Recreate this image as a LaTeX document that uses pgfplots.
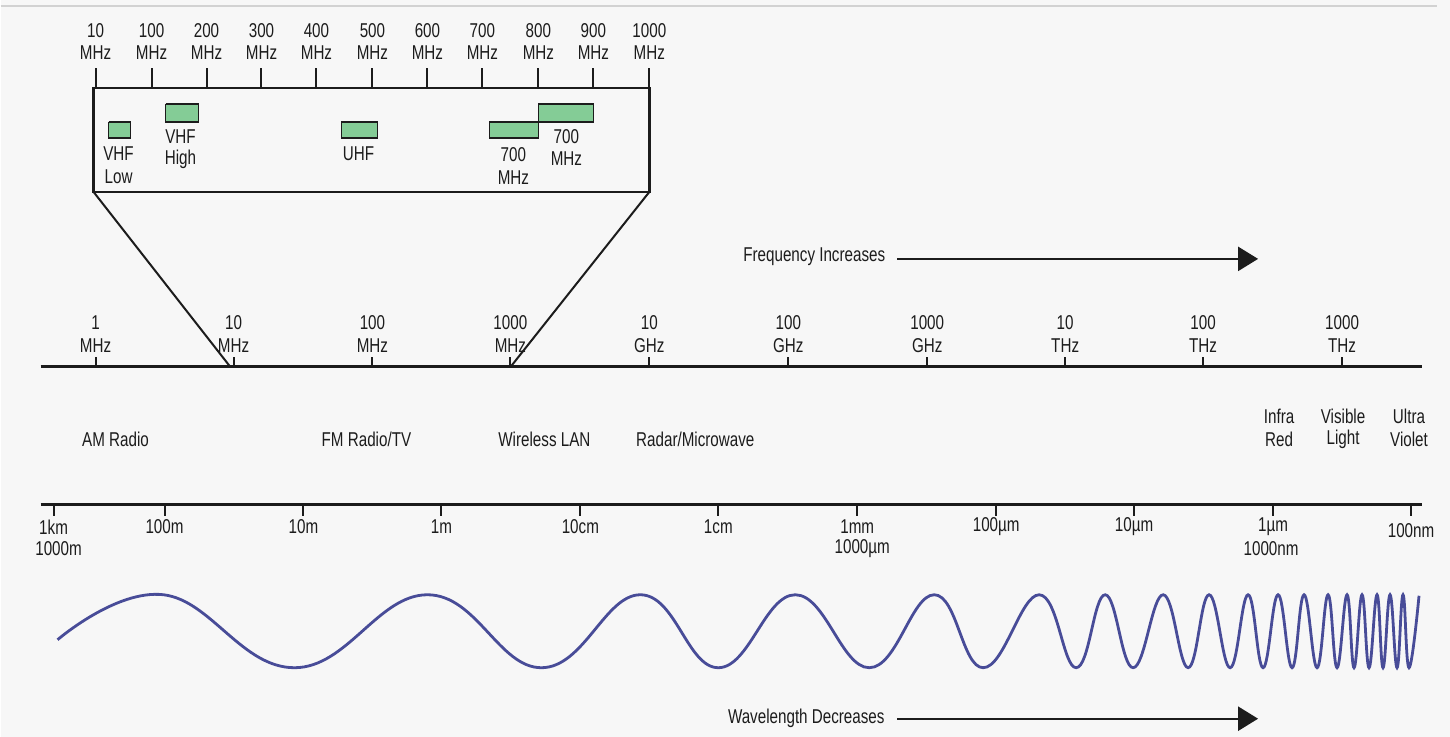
\documentclass[border=0pt]{standalone}
\usepackage{pgfplots}
\pgfplotsset{compat=1.18}
\usetikzlibrary{arrows.meta}
\usepackage{fontspec}
\setmainfont{Liberation Sans}[FakeStretch=0.76]
\definecolor{bg}{RGB}{247,247,247}
\definecolor{band}{RGB}{132,204,150}
\definecolor{wave}{RGB}{72,76,152}
\definecolor{ink}{RGB}{28,28,28}

\begin{document}
\begin{tikzpicture}
\begin{axis}[
    width=725pt, height=368.5pt, scale only axis,
    xmin=0, xmax=1450, ymin=0, ymax=737, y dir=reverse,
    hide axis, clip=false,
    every node near coord/.style={anchor=center, inner sep=0pt, text=ink},
    lbl/.style={draw=none, mark=none, nodes near coords, point meta=explicit symbolic},
    tk/.style={ink, line width=1pt, quiver={u=0, v=#1}, -},
]

% background
\addplot[fill=bg, draw=none] coordinates {(0,0) (1450,0) (1450,737) (0,737)};
\addplot[gray!35, line width=0.6pt] coordinates {(0,6) (1437,6)};

% ---- inset: 10 - 1000 MHz ----
\addplot[ink, line width=1.2pt, line cap=rect] coordinates {(93,88) (649,88) (649,192) (93,192) (93,88)};
\addplot[tk=-20] coordinates {(95,88) (151,88) (206,88) (261,88) (316,88) (372,88) (427,88) (482,88) (538,88) (593,88) (649,88)};
\addplot[lbl] coordinates {(95,31)[10] (151,31)[100] (206,31)[200] (261,31)[300] (316,31)[400] (372,31)[500]
    (427,31)[600] (482,31)[700] (538,31)[800] (593,31)[900] (649,31)[1000]};
\addplot[lbl] coordinates {(95,53)[MHz] (151,53)[MHz] (206,53)[MHz] (261,53)[MHz] (316,53)[MHz] (372,53)[MHz]
    (427,53)[MHz] (482,53)[MHz] (538,53)[MHz] (593,53)[MHz] (649,53)[MHz]};

% bands
\addplot[fill=band, draw=ink, line width=0.6pt] coordinates {(108,122) (130,122) (130,138) (108,138) (108,122)};
\addplot[fill=band, draw=ink, line width=0.6pt] coordinates {(165,104) (198,104) (198,122) (165,122) (165,104)};
\addplot[fill=band, draw=ink, line width=0.6pt] coordinates {(341,122) (377,122) (377,138) (341,138) (341,122)};
\addplot[fill=band, draw=ink, line width=0.6pt] coordinates {(489,122) (538,122) (538,138) (489,138) (489,122)};
\addplot[fill=band, draw=ink, line width=0.6pt] coordinates {(538,104) (593,104) (593,122) (538,122) (538,104)};
\addplot[lbl] coordinates {(118,154)[VHF] (118,177)[Low] (180,137)[VHF] (180,159)[High] (358,154)[UHF]
    (513,155)[700] (513,178)[MHz] (566,137)[700] (566,159)[MHz]};

% zoom lines
\addplot[ink, line width=1pt] coordinates {(93,192) (229,366)};
\addplot[ink, line width=1pt] coordinates {(649,192) (511,366)};

% ---- frequency axis ----
\addplot[ink, line width=1.5pt] coordinates {(40,367) (1422,367)};
\addplot[tk=-10] coordinates {(95,367) (233,367) (372,367) (510,367) (649,367) (788,367) (927,367) (1065,367) (1203,367) (1342,367)};
\addplot[lbl] coordinates {(95,323)[1] (233,323)[10] (372,323)[100] (510,323)[1000] (649,323)[10]
    (788,323)[100] (927,323)[1000] (1065,323)[10] (1203,323)[100] (1342,323)[1000]};
\addplot[lbl] coordinates {(95,346)[MHz] (233,346)[MHz] (372,346)[MHz] (510,346)[MHz] (649,346)[GHz]
    (788,346)[GHz] (927,346)[GHz] (1065,346)[THz] (1203,346)[THz] (1342,346)[THz]};

% regions
\addplot[lbl] coordinates {(115,440)[AM Radio] (366,440)[FM Radio/TV] (544,440)[Wireless LAN] (695,440)[Radar/Microwave]
    (1279,417)[Infra] (1279,440)[Red] (1343,417)[Visible] (1343,440)[Light] (1409,417)[Ultra] (1409,440)[Violet]};

% ---- wavelength axis ----
\addplot[ink, line width=1.5pt] coordinates {(40,505) (1422,505)};
\addplot[tk=11] coordinates {(53,505) (164,505) (303,505) (441,505) (580,505) (718,505) (857,505) (996,505) (1134,505) (1273,505) (1411,505)};
\addplot[lbl] coordinates {(53,527)[1km] (164,527)[100m] (303,527)[10m] (441,527)[1m] (580,527)[10cm] (718,527)[1cm]
    (857,527)[1mm] (996,527)[100µm] (1134,527)[10µm] (1273,527)[1µm] (1411,531)[100nm]
    (58,549)[1000m] (862,549)[1000µm] (1271,549)[1000nm]};

% ---- wave ----
\addplot[wave, line width=1.4pt, smooth, tension=0.72] coordinates {
    (57,640) (163,595) (294,668) (427,595) (541,668) (640,595) (718,668) (795,595) (869,668)
    (934,595) (983,668) (1039,595) (1076,668) (1105,595) (1133,668) (1163,595) (1188,668)
    (1209,595) (1230,668) (1248,595) (1263,668) (1278,595) (1292,668) (1304,595) (1317,668)
    (1328,595) (1337,668) (1347,595) (1354,668) (1362,595) (1369,668) (1377,595) (1383,668)
    (1390,595) (1397,668) (1403,595) (1409,668) (1419,596)};

% ---- arrows ----
\addplot[lbl] coordinates {(814,257)[Frequency Increases] (806,719)[Wavelength Decreases]};
\addplot[ink, line width=1.2pt, -{Triangle[length=10pt, width=12pt]}] coordinates {(897,259) (1258,259)};
\addplot[ink, line width=1.2pt, -{Triangle[length=10pt, width=12pt]}] coordinates {(897,719) (1258,719)};

\end{axis}
\end{tikzpicture}
\end{document}
